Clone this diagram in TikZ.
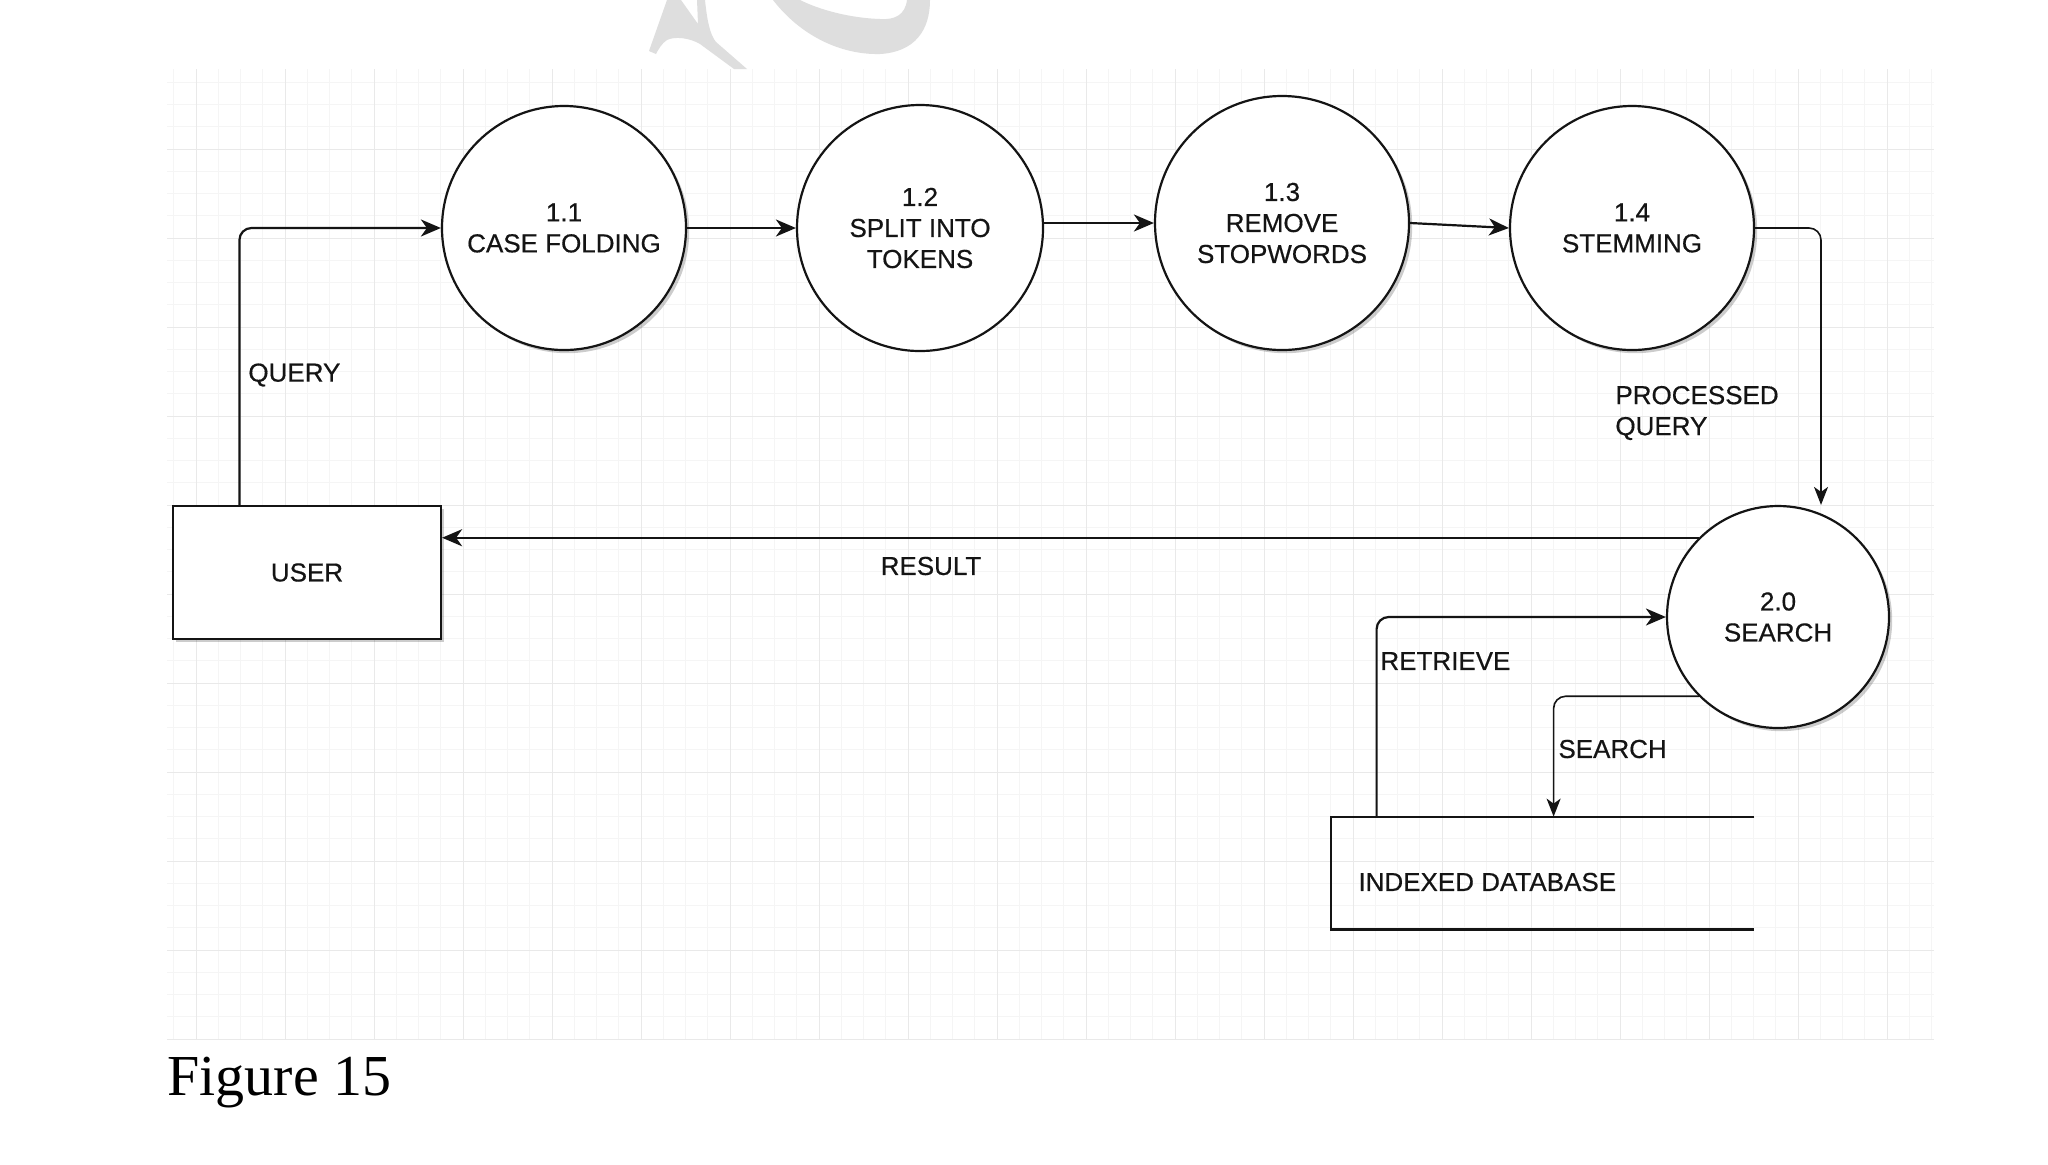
\documentclass[tikz,border=0pt]{standalone}
\usepackage{fontspec}
\setmainfont{Liberation Serif}
\newfontfamily\dfont[FakeBold=0.5]{Liberation Sans}
\usetikzlibrary{arrows.meta,calc,shadows}
\definecolor{gminor}{HTML}{F5F5F5}
\definecolor{gmajor}{HTML}{E9E9E9}
\definecolor{ink}{HTML}{141414}
\definecolor{wm}{HTML}{DEDEDE}
\begin{document}
\begin{tikzpicture}[x=0.5pt,y=-0.5pt,
  txt/.style={font=\dfont\fontsize{13}{15.5}\selectfont, text=ink, inner sep=0pt},
  shad/.style={drop shadow={shadow xshift=1.6pt, shadow yshift=-1.6pt, fill=black, opacity=0.2}},
  proc/.style={circle, draw=ink, line width=1.1pt, fill=white, inner sep=0pt, align=center, txt},
  ent/.style={rectangle, draw=ink, line width=1.1pt, fill=white, inner sep=0pt, txt, shad},
  flow/.style={draw=ink, line width=1.1pt, rounded corners=6pt, -{Stealth[length=10pt,width=8.5pt,inset=3pt]}},
  thin/.style={draw=ink, line width=0.8pt, rounded corners=6pt, -{Stealth[length=9pt,width=7pt,inset=2.5pt]}},
  lbl/.style={txt, anchor=west, align=left}
]
\useasboundingbox (0,0) rectangle (2048,1164);
\fill[white] (0,0) rectangle (2048,1164);

% watermark fragments
\fill[wm] (649,51) -- (667,0) -- (681,0) -- (698,24) -- (697,0) -- (705,0) .. controls (707,20) and (710,35) .. (716,42) -- (747,69) -- (734,69) -- (700,44) .. controls (690,38) and (675,36) .. (667,40) .. controls (662,43) and (658,50) .. (656,54) -- cycle;
\fill[wm] (773,0) .. controls (800,35) and (840,55) .. (880,54) .. controls (915,52) and (930,30) .. (930,0) -- (907,0) .. controls (905,15) and (895,20) .. (880,19) .. controls (850,18) and (820,10) .. (800,0) -- cycle;

% grid
\begin{scope}
\clip (167,69) rectangle (1934,1039);
\foreach \k in {-1,...,78}{
  \draw[gminor, line width=0.5pt] ({196+22.25*\k},69) -- ({196+22.25*\k},1039);
}
\foreach \k in {-3,...,40}{
  \draw[gminor, line width=0.5pt] (167,{149+22.25*\k}) -- (1934,{149+22.25*\k});
}
\foreach \k in {0,...,19}{
  \draw[gmajor, line width=0.5pt] ({196+89*\k},69) -- ({196+89*\k},1039);
}
\foreach \k in {-1,...,10}{
  \draw[gmajor, line width=0.5pt] (167,{149+89*\k}) -- (1934,{149+89*\k});
}
\end{scope}

% processes
\node[proc, shad, minimum size=122pt] (c11) at (564,228) {1.1\\CASE FOLDING};
\node[proc, minimum size=123pt] (c12) at (920,228) {1.2\\SPLIT INTO\\TOKENS};
\node[proc, shad, minimum size=127pt] (c13) at (1282,223) {1.3\\REMOVE\\STOPWORDS};
\node[proc, shad, minimum size=122pt] (c14) at (1632,228) {1.4\\STEMMING};
\node[proc, shad, minimum size=111pt] (srch) at (1778,617) {2.0\\SEARCH};

% external entity
\node[ent, minimum width=134pt, minimum height=66.5pt] (user) at (307,572.5) {USER};

% data store
\node[inner sep=0pt, minimum width=211.5pt, minimum height=56pt] (db) at (1542.5,873) {};
\draw[ink, line width=1.1pt] (db.north east) -- (db.north west) -- (db.south west) -- (db.south east);
\node[lbl] (dbl) at (1358,882) {INDEXED DATABASE};

% flows
\draw[flow] ($(user.north west)!0.25!(user.north east)$) |- (c11.west);
\draw[flow] (c11.east) -- (c12.west);
\draw[flow] (c12.east |- c13.west) -- (c13.west);
\draw[flow] (c13.east) -- (c14.west);
\draw[thin] (c14.east) -| ($(srch.north)+(43,0)$);
\draw[flow] (srch.135) -- (srch.135 -| user.east);
\draw[flow] ($(db.north west)+(46,0)$) |- (srch.west);
\draw[thin] (srch.225) -| ($(db.north west)+(223,0)$);

% labels
\node[lbl] (lq) at (248,375) {QUERY};
\node[txt] (lr) at (931,566) {RESULT};
\node[lbl] (lp) at (1615,413) {PROCESSED\\QUERY};
\node[lbl] (lt) at (1380,661) {RETRIEVE};
\node[lbl] (ls) at (1558,749) {SEARCH};

\node[anchor=base west, inner sep=0pt, font=\fontsize{29}{34}\selectfont] (fig) at (167,1095) {Figure 15};
\end{tikzpicture}
\end{document}
